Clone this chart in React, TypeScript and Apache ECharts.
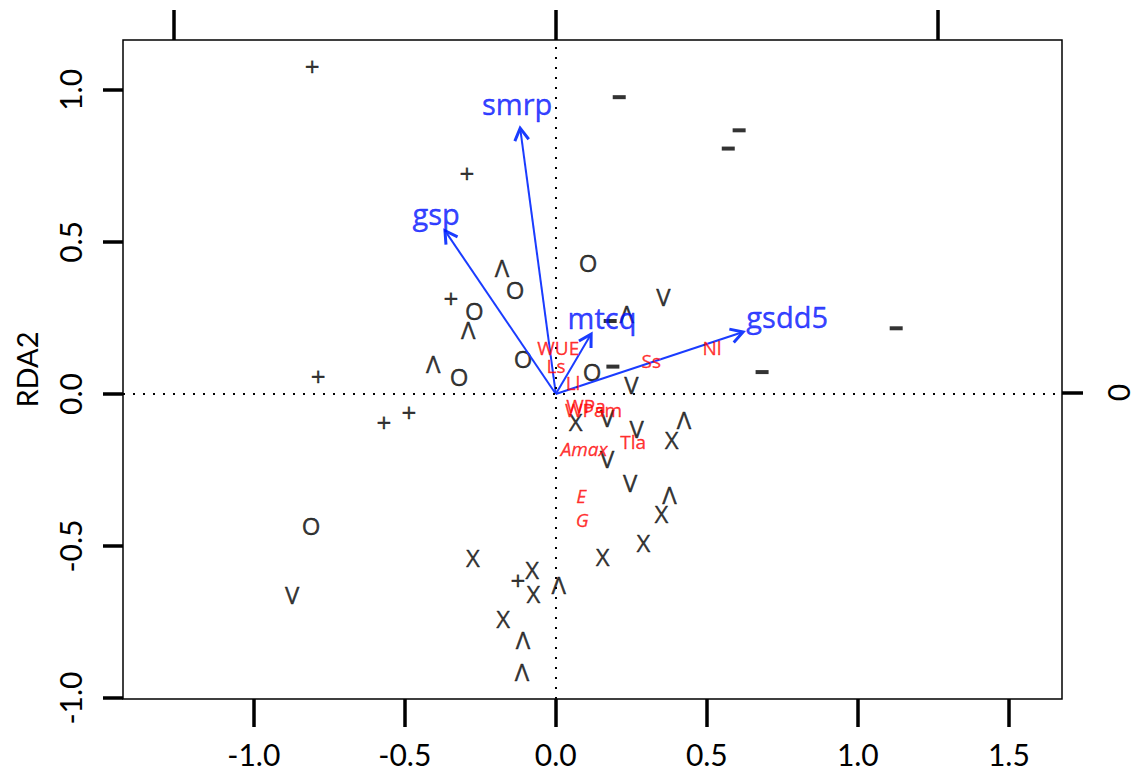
import React, { useEffect, useRef } from "react";
import * as echarts from "echarts";

// Axis ticks
const xTicks = [-1.0, -0.5, 0.0, 0.5, 1.0, 1.5];
const yTicks = [-1.0, -0.5, 0.0, 0.5, 1.0];
const topTicks = [-1, 0, 1];
const rightTicks = [0];

// Site symbols (RDA1, RDA2)
const plusPts = [[-0.807, 1.079], [-0.294, 0.728], [-0.347, 0.316], [-0.787, 0.058], [-0.486, -0.06], [-0.569, -0.093], [-0.125, -0.612]];
const circlePts = [[0.107, 0.432], [-0.135, 0.345], [-0.27, 0.273], [-0.108, 0.118], [-0.32, 0.058], [0.12, 0.075], [-0.81, -0.431]];
const lambdaPts = [[-0.178, 0.416], [-0.29, 0.213], [-0.406, 0.099], [0.235, 0.266], [0.424, -0.083], [0.376, -0.33], [0.01, -0.627], [-0.109, -0.806], [-0.112, -0.912]];
const vPts = [[0.356, 0.322], [0.25, 0.032], [0.17, -0.077], [0.268, -0.113], [0.17, -0.212], [0.246, -0.291], [-0.873, -0.661]];
const xPts = [[0.066, -0.09], [0.384, -0.15], [0.35, -0.394], [0.29, -0.49], [0.155, -0.533], [-0.274, -0.539], [-0.078, -0.578], [-0.074, -0.655], [-0.174, -0.738]];
const dashPts = [[0.21, 0.976], [0.607, 0.867], [0.571, 0.807], [0.18, 0.24], [0.189, 0.09], [1.127, 0.216], [0.683, 0.072]];

// Environmental arrows
const arrowNames = ["smrp", "gsp", "mtcq", "gsdd5"];
const arrowTips = [[-0.118, 0.874], [-0.367, 0.537], [0.117, 0.197], [0.62, 0.204]];
const arrowLabelPos = [[-0.128, 0.956], [-0.396, 0.593], [0.153, 0.252], [0.766, 0.254]];

// Trait labels
const traitNames = ["WUE", "Ls", "Ll", "Ss", "Nl", "WPa", "WPam", "Amax", "Tla", "E", "G"];
const traitPos = [[0.008, 0.151], [0.001, 0.091], [0.057, 0.035], [0.316, 0.11], [0.517, 0.151], [0.1, -0.04], [0.125, -0.053], [0.094, -0.18], [0.256, -0.159], [0.084, -0.337], [0.087, -0.414]];
const traitItalic = [false, false, false, false, false, false, false, true, false, true, true];

const FONT = "'Open Sans', Lato, sans-serif";
const AXFONT = "Lato, sans-serif";
const BLUE = "#1a3cff";
const BLUE_TEXT = "#0010ff";
const RED = "#ff0000";

function textSeries(pts: number[][], ch: string, size: number) {
  return {
    type: "scatter",
    xAxisIndex: 0,
    yAxisIndex: 0,
    symbolSize: 0,
    itemStyle: { color: "#000" },
    silent: true,
    data: pts.map((p) => ({ value: p, name: ch })),
    label: {
      show: true,
      position: "inside",
      formatter: "{b}",
      color: "#000",
      fontSize: size,
      fontFamily: FONT,
      textBorderColor: "#000",
      textBorderWidth: 0.4,
    },
    z: 3,
  };
}

export default function App() {
  const ref = useRef<HTMLDivElement>(null);
  useEffect(() => {
    if (!ref.current) return;
    const chart = echarts.init(ref.current, undefined, { renderer: "svg" });
    const option: any = {
      animation: false,
      backgroundColor: "#fff",
      grid: {
        left: 123,
        right: 75,
        top: 40,
        bottom: 74,
        show: true,
        borderColor: "#000",
        borderWidth: 1.5,
        backgroundColor: "transparent",
        containLabel: false,
      },
      xAxis: [
        {
          type: "value",
          position: "bottom",
          min: -1.433,
          max: 1.676,
          axisLine: { show: false, onZero: false },
          splitLine: { show: false },
          axisTick: { show: true, customValues: xTicks, length: 28, lineStyle: { color: "#000", width: 3.5 } },
          axisLabel: {
            show: true,
            customValues: xTicks,
            formatter: (v: number) => v.toFixed(1),
            fontSize: 30,
            lineHeight: 28,
            fontFamily: AXFONT,
            color: "#000",
            margin: 41,
          },
        },
        {
          type: "value",
          position: "top",
          min: -1.1335,
          max: 1.3246,
          axisLine: { show: false, onZero: false },
          splitLine: { show: false },
          axisTick: { show: true, customValues: topTicks, length: 30, lineStyle: { color: "#000", width: 3.5 } },
          axisLabel: { show: false },
        },
      ],
      yAxis: [
        {
          type: "value",
          position: "left",
          min: -1.003,
          max: 1.164,
          name: "RDA2",
          nameLocation: "middle",
          nameRotate: 90,
          nameGap: 82,
          nameTextStyle: { fontSize: 29, fontFamily: AXFONT, color: "#000" },
          axisLine: { show: false, onZero: false },
          splitLine: { show: false },
          axisTick: { show: true, customValues: yTicks, length: 20, lineStyle: { color: "#000", width: 3.5 } },
          axisLabel: {
            show: true,
            customValues: yTicks,
            rotate: 90,
            formatter: (v: number) => v.toFixed(1),
            fontSize: 30,
            fontFamily: AXFONT,
            color: "#000",
            margin: 38,
          },
        },
        {
          type: "value",
          position: "right",
          min: -0.802,
          max: 0.923,
          axisLine: { show: false, onZero: false },
          splitLine: { show: false },
          axisTick: { show: true, customValues: rightTicks, length: 21, lineStyle: { color: "#000", width: 3.5 } },
          axisLabel: {
            show: true,
            customValues: rightTicks,
            rotate: 90,
            formatter: (v: number) => String(v),
            fontSize: 30,
            fontFamily: AXFONT,
            color: "#000",
            margin: 41,
          },
        },
      ],
      series: [
        {
          type: "scatter",
          xAxisIndex: 0,
          yAxisIndex: 0,
          symbolSize: 0,
          data: [],
          silent: true,
          markLine: {
            silent: true,
            symbol: ["none", "none"],
            label: { show: false },
            lineStyle: { color: "#000", type: [2, 8], width: 2 },
            data: [{ xAxis: 0 }, { yAxis: 0 }],
          },
          z: 1,
        },
        textSeries(plusPts, "+", 26),
        textSeries(circlePts, "O", 24),
        textSeries(lambdaPts, "Λ", 24),
        textSeries(vPts, "V", 24),
        textSeries(xPts, "X", 24),
        {
          type: "scatter",
          xAxisIndex: 0,
          yAxisIndex: 0,
          symbol: "rect",
          symbolSize: [13, 4],
          itemStyle: { color: "#000" },
          silent: true,
          data: dashPts,
          z: 3,
        },
        {
          type: "custom",
          xAxisIndex: 0,
          yAxisIndex: 0,
          silent: true,
          data: arrowTips,
          encode: { x: 0, y: 1 },
          renderItem: (params: any, api: any) => {
            const x = api.value(0);
            const y = api.value(1);
            const p0 = api.coord([0, 0]);
            const p1 = api.coord([x, y]);
            const ang = Math.atan2(p1[1] - p0[1], p1[0] - p0[0]);
            const L = 14;
            const a = Math.PI / 6;
            const h1 = [p1[0] - L * Math.cos(ang - a), p1[1] - L * Math.sin(ang - a)];
            const h2 = [p1[0] - L * Math.cos(ang + a), p1[1] - L * Math.sin(ang + a)];
            return {
              type: "group",
              children: [
                { type: "line", shape: { x1: p0[0], y1: p0[1], x2: p1[0], y2: p1[1] }, style: { stroke: BLUE, lineWidth: 2 } },
                { type: "polyline", shape: { points: [h1, p1, h2] }, style: { stroke: BLUE, lineWidth: 3, fill: null } },
              ],
            };
          },
          z: 4,
        },
        {
          type: "scatter",
          xAxisIndex: 0,
          yAxisIndex: 0,
          symbolSize: 0,
          itemStyle: { color: BLUE_TEXT },
          silent: true,
          data: arrowNames.map((n, i) => ({ name: n, value: arrowLabelPos[i] })),
          label: {
            show: true,
            position: "inside",
            formatter: "{b}",
            color: BLUE_TEXT,
            fontSize: 29,
            fontFamily: FONT,
            textBorderColor: BLUE_TEXT,
            textBorderWidth: 0.4,
          },
          z: 5,
        },
        {
          type: "scatter",
          xAxisIndex: 0,
          yAxisIndex: 0,
          symbolSize: 0,
          itemStyle: { color: RED },
          silent: true,
          data: traitNames.map((n, i) => ({
            name: n,
            value: traitPos[i],
            label: { fontStyle: traitItalic[i] ? "italic" : "normal" },
          })),
          label: {
            show: true,
            position: "inside",
            formatter: "{b}",
            color: RED,
            fontSize: 19,
            fontFamily: FONT,
            textBorderColor: RED,
            textBorderWidth: 0.3,
          },
          z: 6,
        },
      ],
    };
    chart.setOption(option);
    return () => chart.dispose();
  }, []);
  return (
    <div
      ref={ref}
      style={{ position: "fixed", left: 0, top: 0, width: 1137, height: 773, background: "#fff" }}
    />
  );
}
